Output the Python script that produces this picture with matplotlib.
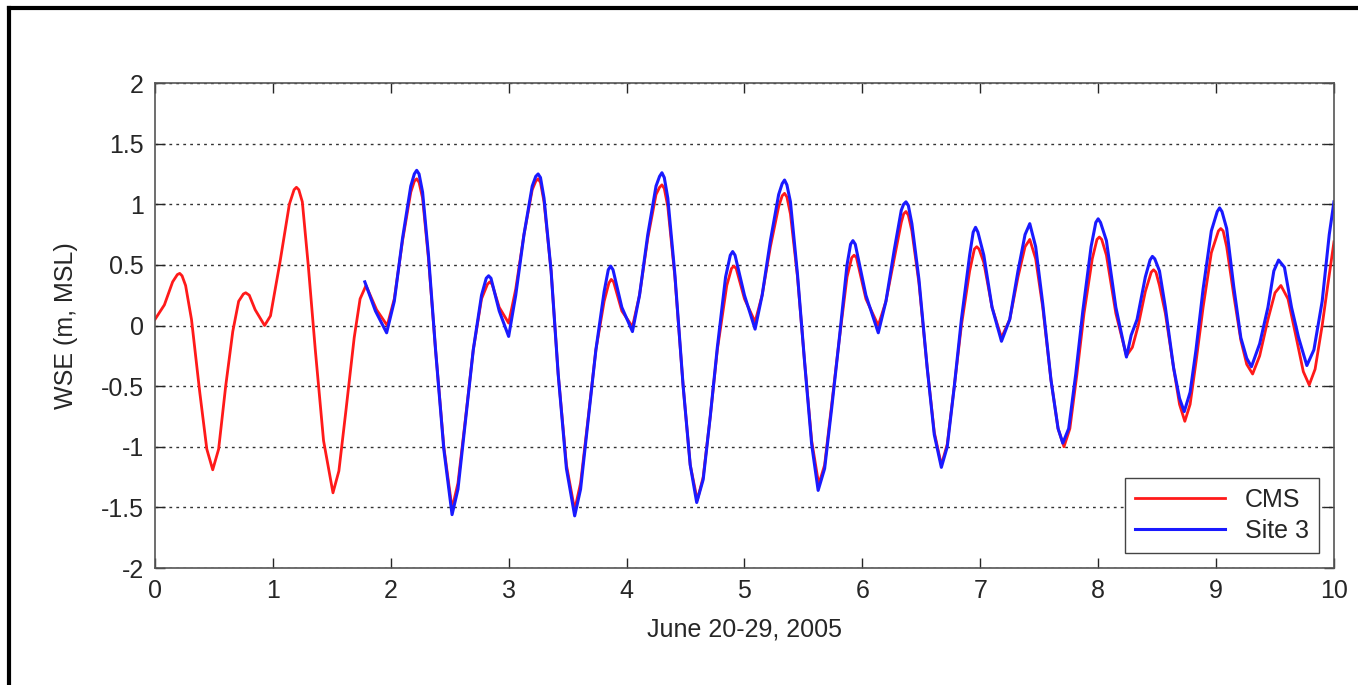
import matplotlib
matplotlib.use('Agg')
import matplotlib.pyplot as plt
from matplotlib.lines import Line2D

plt.rcParams['font.family'] = ['Liberation Sans', 'DejaVu Sans']

# CMS model (red): day, WSE
t_cms = [0.00, 0.08, 0.15, 0.19, 0.21, 0.23, 0.26, 0.31, 0.38, 0.44, 0.49, 0.54, 0.60, 0.66, 0.71, 0.75, 0.77, 0.80, 0.85, 0.93,
         0.98, 1.06, 1.14, 1.18, 1.20, 1.22, 1.25, 1.30, 1.36, 1.43, 1.51, 1.56, 1.62, 1.69, 1.74, 1.79, 1.88, 1.97,
         2.03, 2.10, 2.17, 2.20, 2.22, 2.24, 2.27, 2.32, 2.38, 2.45, 2.52, 2.57, 2.63, 2.70, 2.77, 2.82, 2.84, 2.86, 2.92, 3.00,
         3.06, 3.13, 3.20, 3.23, 3.25, 3.27, 3.30, 3.36, 3.42, 3.49, 3.56, 3.61, 3.67, 3.74, 3.81, 3.85, 3.87, 3.89, 3.96, 4.05,
         4.11, 4.18, 4.25, 4.28, 4.30, 4.32, 4.35, 4.41, 4.48, 4.54, 4.60, 4.65, 4.71, 4.77, 4.85, 4.89, 4.91, 4.93, 5.00, 5.09,
         5.15, 5.22, 5.29, 5.32, 5.34, 5.36, 5.39, 5.45, 5.51, 5.57, 5.63, 5.68, 5.74, 5.80, 5.87, 5.91, 5.93, 5.95, 6.03, 6.135,
         6.20, 6.27, 6.33, 6.35, 6.37, 6.39, 6.42, 6.48, 6.55, 6.61, 6.67, 6.72, 6.78, 6.84, 6.91, 6.95, 6.97, 6.99, 7.03, 7.10,
         7.18, 7.25, 7.32, 7.38, 7.42, 7.47, 7.53, 7.60, 7.66, 7.71, 7.76, 7.82, 7.88, 7.95, 7.99, 8.01, 8.03, 8.07,
         8.15, 8.24, 8.29, 8.34, 8.40, 8.45, 8.47, 8.49, 8.52, 8.57, 8.64, 8.69, 8.735, 8.78, 8.83, 8.89, 8.96, 9.02, 9.04, 9.06,
         9.09, 9.15, 9.21, 9.26, 9.31, 9.37, 9.44, 9.50, 9.55, 9.61, 9.68, 9.74, 9.79, 9.84, 9.90, 9.95,
         10.0]
wse_cms = [0.05, 0.17, 0.36, 0.42, 0.43, 0.41, 0.33, 0.05, -0.55, -1.02, -1.19, -1.02, -0.50, -0.05, 0.20, 0.26, 0.27, 0.25, 0.13, 0.00,
           0.08, 0.52, 1.00, 1.12, 1.14, 1.12, 1.02, 0.50, -0.20, -0.95, -1.38, -1.20, -0.70, -0.10, 0.22, 0.33, 0.13, 0.00,
           0.22, 0.70, 1.10, 1.19, 1.21, 1.18, 1.05, 0.55, -0.20, -1.00, -1.51, -1.30, -0.80, -0.20, 0.22, 0.34, 0.36, 0.34, 0.15, 0.02,
           0.30, 0.75, 1.12, 1.19, 1.21, 1.18, 1.02, 0.45, -0.40, -1.15, -1.52, -1.30, -0.80, -0.20, 0.20, 0.35, 0.38, 0.36, 0.12, -0.01,
           0.25, 0.72, 1.08, 1.14, 1.16, 1.13, 0.98, 0.40, -0.50, -1.15, -1.44, -1.25, -0.75, -0.20, 0.33, 0.47, 0.49, 0.47, 0.22, 0.03,
           0.25, 0.65, 0.98, 1.07, 1.09, 1.06, 0.92, 0.40, -0.30, -0.95, -1.31, -1.15, -0.65, -0.15, 0.40, 0.56, 0.58, 0.56, 0.22, 0.00,
           0.20, 0.55, 0.85, 0.92, 0.94, 0.91, 0.78, 0.35, -0.35, -0.88, -1.15, -0.98, -0.50, 0.00, 0.45, 0.63, 0.65, 0.63, 0.52, 0.15,
           -0.10, 0.05, 0.40, 0.65, 0.71, 0.55, 0.15, -0.45, -0.85, -1.00, -0.85, -0.40, 0.10, 0.55, 0.71, 0.73, 0.71, 0.58,
           0.10, -0.25, -0.18, 0.00, 0.28, 0.44, 0.46, 0.44, 0.33, 0.10, -0.35, -0.65, -0.79, -0.65, -0.30, 0.15, 0.60, 0.78, 0.80, 0.78,
           0.65, 0.25, -0.12, -0.32, -0.40, -0.25, 0.05, 0.27, 0.33, 0.22, -0.10, -0.38, -0.49, -0.36, 0.00, 0.35,
           0.69]

# Site 3 gauge (blue)
t_site3 = [1.78, 1.87, 1.965, 2.03, 2.10, 2.17, 2.20, 2.22, 2.24, 2.27, 2.32, 2.38, 2.45, 2.52, 2.57, 2.63, 2.70, 2.77,
           2.81, 2.83, 2.85, 2.92, 3.00, 3.06, 3.13, 3.20, 3.23, 3.25, 3.27, 3.30, 3.36, 3.42, 3.49, 3.56, 3.61, 3.67, 3.74, 3.81,
           3.845, 3.865, 3.885, 3.96, 4.05, 4.11, 4.18, 4.25, 4.28, 4.30, 4.32, 4.35, 4.41, 4.48, 4.54, 4.595, 4.65, 4.71, 4.77, 4.84,
           4.88, 4.90, 4.92, 5.00, 5.09, 5.15, 5.22, 5.29, 5.32, 5.34, 5.36, 5.39, 5.45, 5.51, 5.57, 5.625, 5.68, 5.74, 5.80, 5.87,
           5.90, 5.92, 5.94, 6.03, 6.135, 6.20, 6.27, 6.33, 6.35, 6.37, 6.39, 6.42, 6.48, 6.55, 6.61, 6.67, 6.72, 6.78, 6.84, 6.91,
           6.94, 6.96, 6.98, 7.03, 7.10, 7.18, 7.25, 7.32, 7.38, 7.42, 7.47, 7.53, 7.60, 7.66, 7.70, 7.75, 7.81, 7.87,
           7.94, 7.98, 8.00, 8.02, 8.07, 8.15, 8.24, 8.28, 8.33, 8.40, 8.44, 8.46, 8.48, 8.52, 8.57, 8.64, 8.69, 8.73, 8.78, 8.83,
           8.89, 8.96, 9.01, 9.03, 9.05, 9.09, 9.15, 9.21, 9.26, 9.30, 9.37, 9.44, 9.49, 9.53, 9.58, 9.64, 9.70, 9.77,
           9.83, 9.90, 9.96, 10.0]
wse_site3 = [0.36, 0.12, -0.06, 0.20, 0.72, 1.15, 1.25, 1.28, 1.25, 1.10, 0.58, -0.20, -1.02, -1.56, -1.35, -0.82, -0.20, 0.25,
             0.39, 0.41, 0.39, 0.12, -0.09, 0.25, 0.75, 1.15, 1.23, 1.25, 1.22, 1.05, 0.45, -0.40, -1.18, -1.57, -1.35, -0.82, -0.20, 0.28,
             0.46, 0.49, 0.46, 0.15, -0.05, 0.25, 0.75, 1.15, 1.23, 1.26, 1.22, 1.05, 0.42, -0.50, -1.15, -1.46, -1.27, -0.75, -0.18, 0.40,
             0.58, 0.61, 0.58, 0.25, -0.03, 0.25, 0.70, 1.08, 1.17, 1.20, 1.16, 1.02, 0.42, -0.30, -0.98, -1.36, -1.18, -0.68, -0.15, 0.50,
             0.67, 0.70, 0.67, 0.25, -0.06, 0.20, 0.62, 0.95, 1.00, 1.02, 0.99, 0.84, 0.38, -0.35, -0.90, -1.17, -1.00, -0.50, 0.05, 0.58,
             0.77, 0.81, 0.77, 0.58, 0.15, -0.13, 0.05, 0.45, 0.75, 0.84, 0.65, 0.18, -0.45, -0.85, -0.97, -0.85, -0.40, 0.12,
             0.65, 0.85, 0.88, 0.85, 0.70, 0.15, -0.26, -0.08, 0.05, 0.40, 0.54, 0.57, 0.55, 0.45, 0.15, -0.35, -0.60, -0.71, -0.55, -0.20,
             0.30, 0.78, 0.94, 0.97, 0.94, 0.80, 0.32, -0.10, -0.27, -0.34, -0.15, 0.15, 0.45, 0.54, 0.48, 0.15, -0.10, -0.33,
             -0.20, 0.20, 0.75, 1.02]

xticks = list(range(0, 11))
yticks = [-2, -1.5, -1, -0.5, 0, 0.5, 1, 1.5, 2]
ylabels = ['-2', '-1.5', '-1', '-0.5', '0', '0.5', '1', '1.5', '2']

fig = plt.figure(figsize=(13.58, 6.85), dpi=100)
ax = fig.add_axes([0.1141, 0.1708, 0.8682, 0.7080])

ax.plot(t_cms, wse_cms, color='#ff1a1a', lw=2, label='CMS', solid_joinstyle='round')
ax.plot(t_site3, wse_site3, color='#1a1aff', lw=2.2, label='Site 3', solid_joinstyle='round')

ax.set_xlim(0, 10)
ax.set_ylim(-2, 2)
ax.set_xticks(xticks)
ax.set_yticks(yticks)
ax.set_yticklabels(ylabels)
ax.tick_params(direction='in', length=7, width=1, top=True, right=True,
               labelsize=18, colors='#262626', pad=8)
ax.yaxis.grid(True, linestyle=(0, (2, 3)), color='#333333', lw=1)
for s in ax.spines.values():
    s.set_color('#555555')
    s.set_linewidth(1.2)

ax.set_xlabel('June 20-29, 2005', fontsize=18, color='#262626', labelpad=10)
ax.set_ylabel('WSE (m, MSL)', fontsize=18, color='#262626', labelpad=16)

leg = ax.legend(loc='lower right', fontsize=18, fancybox=False, framealpha=1,
                edgecolor='#444444', handlelength=3.6, borderaxespad=0.6,
                labelspacing=0.3, borderpad=0.4)
for txt in leg.get_texts():
    txt.set_color('#262626')

# figure frame lines on left and top edges
fig.add_artist(Line2D([9 / 1358, 9 / 1358], [0, 1 - 8 / 685], transform=fig.transFigure, color='black', lw=3))
fig.add_artist(Line2D([9 / 1358, 1], [1 - 8 / 685, 1 - 8 / 685], transform=fig.transFigure, color='black', lw=3))

fig.savefig('out.png', dpi=100)
